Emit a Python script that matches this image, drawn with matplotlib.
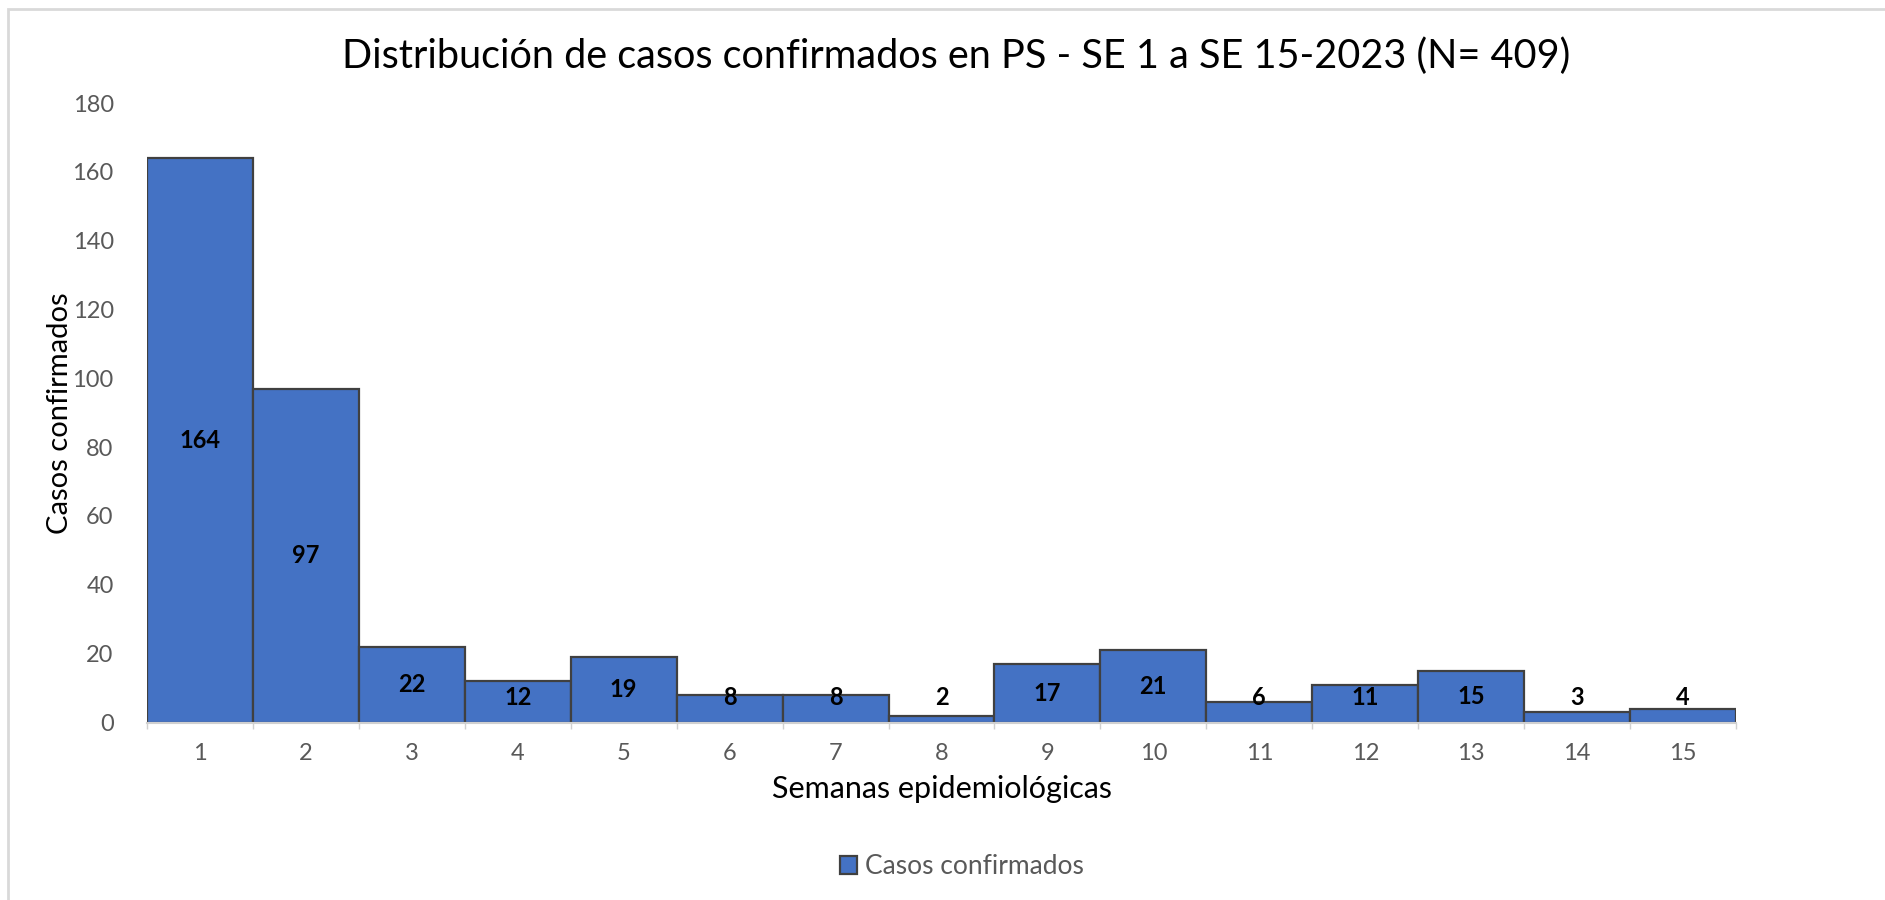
import matplotlib
matplotlib.use("Agg")
import matplotlib.pyplot as plt
from matplotlib.patches import Rectangle

plt.rcParams["font.family"] = ["Lato", "DejaVu Sans"]

semanas = [str(i) for i in range(1, 16)]
casos = [164, 97, 22, 12, 19, 8, 8, 2, 17, 21, 6, 11, 15, 3, 4]
total = sum(casos)

titulo = f"Distribución de casos confirmados en PS - SE 1 a SE 15-2023 (N= {total})"
etiqueta_x = "Semanas epidemiológicas"
etiqueta_y = "Casos confirmados"
serie = "Casos confirmados"

azul = "#4472C4"
borde = "#404040"
gris_txt = "#595959"

fig = plt.figure(figsize=(18.85, 9.0), dpi=100)
fig.patch.set_facecolor("white")

# chart frame
fig.add_artist(Rectangle((8 / 1885, -0.05), 1.1, 1.05 - 9 / 900, transform=fig.transFigure,
                         fill=False, edgecolor="#d9d9d9", linewidth=2))

ax_bottom = 1 - 722.5 / 900
ax_height = (722.5 - 103) / 900
ax = fig.add_axes([147 / 1885, ax_bottom, (1736 - 147) / 1885, ax_height])
x = list(range(len(casos)))
ax.bar(x, casos, width=1.0, color=azul, edgecolor=borde, linewidth=1.6, zorder=2)

ax.set_xlim(-0.5, len(casos) - 0.5)
ax.set_ylim(0, 180)
ax.set_yticks(range(0, 181, 20))
ax.set_xticks(x)
ax.set_xticklabels(semanas)
ax.set_xticks([i - 0.5 for i in range(len(casos) + 1)], minor=True)

for s in ["top", "right", "left"]:
    ax.spines[s].set_visible(False)
ax.spines["bottom"].set_color("#d0d0d0")
ax.spines["bottom"].set_linewidth(1.5)
ax.spines["bottom"].set_zorder(3)

ax.tick_params(axis="y", length=0, labelsize=17, labelcolor=gris_txt, pad=24)
ax.tick_params(axis="x", which="major", length=0, labelsize=17, labelcolor=gris_txt, pad=15)
ax.tick_params(axis="x", which="minor", length=4, color="#d0d0d0", width=1)

# value labels centred in each bar, kept off the baseline for short bars
for xi, v in zip(x, casos):
    ax.text(xi, max(v / 2, 7.3), str(v), ha="center", va="center",
            fontsize=17, fontweight="bold", color="black", zorder=4)

ax.set_xlabel(etiqueta_x, fontsize=22, color="black", labelpad=8)
ax.set_ylabel(etiqueta_y, fontsize=21, color="black", va="center")
ax.yaxis.set_label_coords(60 / 1885, ax_bottom + ax_height / 2, transform=fig.transFigure)

fig.text(956 / 1885, 1 - 56 / 900, titulo, ha="center", va="center",
         fontsize=28.5, color="black")

handle = Rectangle((0, 0), 1, 1, facecolor=azul, edgecolor=borde, linewidth=1.6)
fig.legend([handle], [serie], loc="center", bbox_to_anchor=(962 / 1885, 1 - 867 / 900),
           frameon=False, fontsize=19, labelcolor=gris_txt, handlelength=0.65,
           handleheight=0.65, handletextpad=0.3)

fig.savefig("out.png", dpi=100, facecolor="white")
